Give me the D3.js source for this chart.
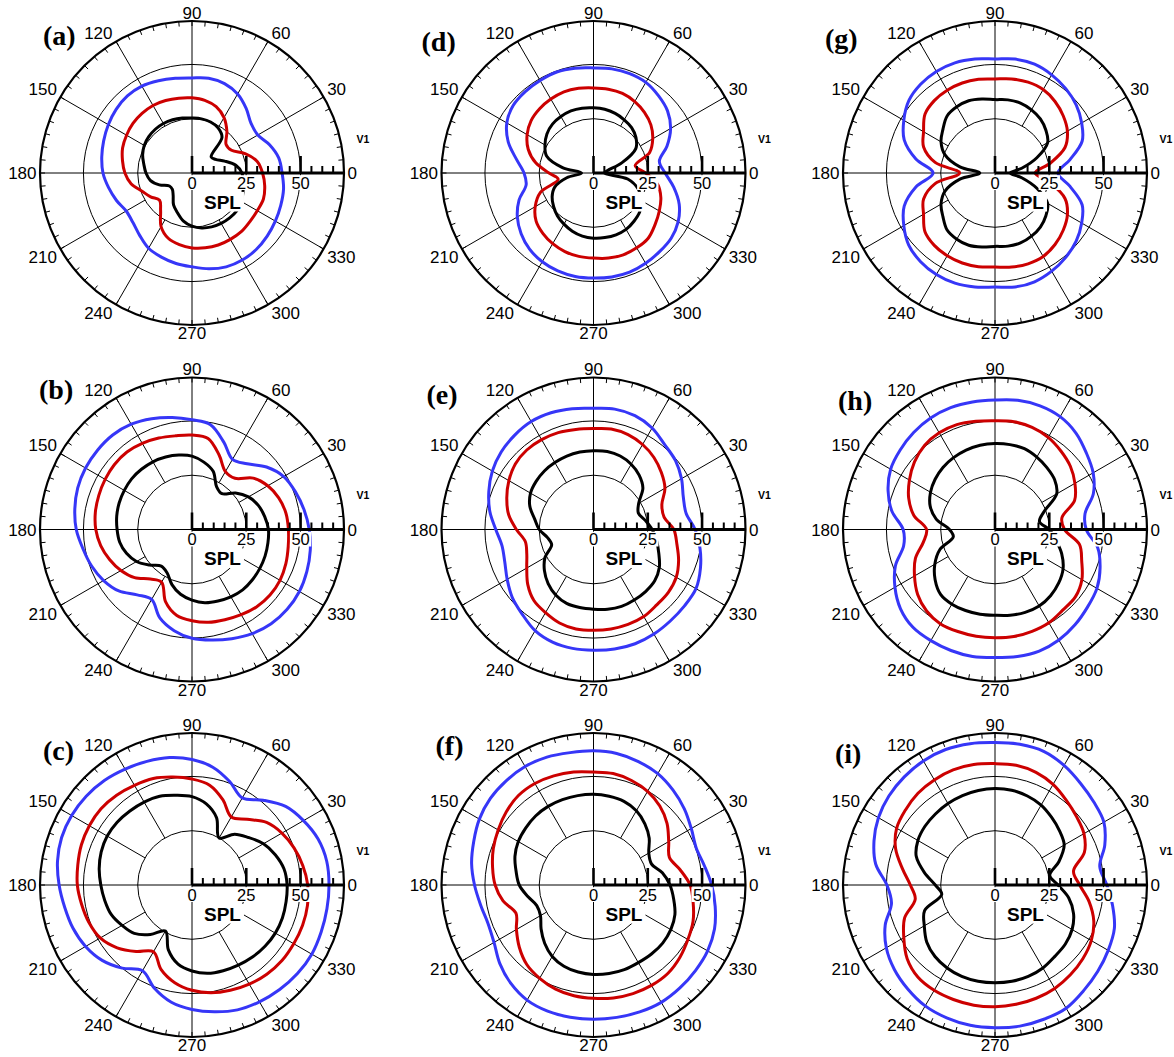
<!DOCTYPE html>
<html>
<head>
<meta charset="utf-8">
<script src="https://cdnjs.cloudflare.com/ajax/libs/d3/7.8.5/d3.min.js"></script>
<style>
  body { margin: 0; background: #fff; }
  svg { display: block; }
</style>
</head>
<body>
<svg id="chart" width="1174" height="1057"></svg>
<script>
// Directivity of SPL (polar), three source levels per case, nine cases (a)-(i)
const angles = d3.range(0, 360, 10);          // degrees, 0 = +x, counter-clockwise
const angleTicks = d3.range(0, 360, 30);
const rimTicks = d3.range(0, 360, 5);
const radialTicks = d3.range(0, 70, 5);
const radialLabels = [0, 25, 50];
const gridRings = [25, 50];
const panelIds = ['a', 'b', 'c', 'd', 'e', 'f', 'g', 'h', 'i'];
const seriesColors = ['#3636f7', '#cc0000', '#000000'];

// SPL values at 0,10,...,350 degrees
const aBlack = [23, 20.5, 16, 12.5, 11.5, 21.5, 24, 25, 25.3, 25.3, 25.7, 26.1, 26.3, 26.3, 26, 25.4, 24.2, 22.5, 21.2, 19.5, 16, 12, 11.8, 13.5, 17, 19.5, 22.5, 24.5, 25.7, 26.4, 26.8, 27, 27, 26.3, 25, 24];
const aRed   = [32.5, 30.5, 26, 21, 20.5, 25, 29.5, 32.5, 34, 34.6, 35, 35.5, 35.9, 35.8, 35.5, 34.8, 34, 32.5, 30.9, 28.5, 24.5, 22, 19.5, 22.5, 28.5, 32, 33.5, 34.5, 35, 35.3, 35.3, 35.3, 34.8, 34.7, 35, 34];
const aBlue  = [41.5, 40.5, 38, 35, 35.5, 38.8, 42, 43.8, 44.3, 43.8, 44.3, 45.2, 46.2, 46.3, 45.6, 44.5, 43.3, 42.2, 41, 39, 37, 35, 35.5, 37.5, 40, 41.2, 42.3, 43.2, 44.8, 46, 46.3, 46, 45.2, 44.3, 43.5, 42.8];

const bBlack = [35.2, 34, 32.5, 30, 26.2, 21.5, 22.7, 28.5, 31.5, 33.8, 34.8, 35.5, 36, 36.2, 36.3, 36, 35.7, 35.2, 34.5, 33.8, 32.1, 29.5, 25.5, 22, 23, 27, 30.3, 32.5, 34.2, 35, 35.8, 36.3, 36.2, 36, 35.8, 35.5];
const bRed   = [44.4, 43.9, 42.5, 40.3, 36.8, 30.8, 30.8, 36.5, 42.6, 43.5, 43.8, 44.8, 45.8, 46.6, 46.6, 46.2, 45.7, 45.2, 44.3, 42.7, 40.4, 37.8, 34.5, 29.8, 28, 35.5, 40.2, 42, 43.4, 44.2, 45.3, 46.4, 46.9, 46.8, 46, 45];
const bBlue  = [54, 52.4, 50.7, 48.8, 44.8, 39.5, 37.3, 42.8, 49, 50.5, 52.4, 54.3, 56, 56.8, 56.8, 56.6, 56, 54.8, 53.3, 51, 49.2, 47, 44, 39.3, 37.2, 43.3, 47.3, 50.1, 51.7, 53.5, 55.4, 56.7, 57.2, 57.1, 56.3, 55.3];

const cBlack = [43.8, 43, 40.8, 38, 34, 30.5, 25, 33, 37.9, 40.7, 42, 43.5, 44.1, 44.5, 45, 45.1, 44.5, 43.4, 42, 40.8, 39.6, 37.2, 34.7, 29.8, 24.5, 31.8, 37, 39.6, 41.3, 42, 42.6, 43.3, 43.9, 44.3, 44.3, 44];
const cRed   = [53.3, 51.8, 50, 47.8, 44.8, 39.5, 36.2, 41.7, 46.7, 48.8, 50.5, 52.2, 53, 54, 54.7, 54.6, 54.2, 53.4, 52.8, 51.6, 50.5, 48.8, 45, 40, 35.5, 41.5, 45.7, 48.5, 50.4, 51.6, 52.7, 53.6, 54.1, 54.1, 54.2, 54];
const cBlue  = [63.1, 63, 61.8, 59.3, 56.3, 51, 46.3, 50.7, 55.1, 57.8, 59.6, 60.6, 61.6, 62.8, 63.6, 64, 63.9, 62.9, 61.2, 59.5, 58.3, 56.6, 54, 50, 45.6, 50.6, 54.8, 57.3, 59.3, 61.2, 62.1, 62.8, 63.4, 63.7, 63.3, 63.1];

const dBlack = [5, 6.6, 14, 22.5, 25.5, 27.3, 28.3, 29.2, 29.8, 30, 30.3, 30.4, 30, 29.4, 28, 25.8, 23, 14.5, 5.5, 12.5, 19, 22, 24, 25.8, 27.2, 28.5, 29.5, 30, 30.2, 30.3, 30, 29, 27.8, 25.5, 22, 16];
const dRed   = [24, 19.5, 27.5, 31.5, 34.5, 36.5, 38, 39, 39.2, 39.2, 39.6, 39.8, 39.3, 38.6, 37.5, 35.3, 32, 27, 20.5, 16.5, 26, 31, 34.5, 36.3, 37.6, 38.5, 39, 39.2, 39.8, 40.1, 39.8, 39.2, 37, 35, 33, 30];
const dBlue  = [33, 30.8, 36, 41, 44.5, 46.5, 48.2, 48.7, 48.7, 48.4, 49, 49.5, 49.2, 48.9, 48.3, 46.1, 41.8, 36, 32, 31.5, 36.5, 40.5, 43.5, 45.8, 47.2, 48, 48.4, 48.4, 48.6, 48.6, 48, 47.3, 46.7, 45, 42, 37.5];

const eBlack = [27, 24.2, 22, 24, 29.7, 32.7, 34.7, 36, 36.5, 36.3, 36.2, 36, 35.6, 35.2, 34.5, 33.5, 31.2, 27.5, 25, 21.5, 20.5, 25.8, 29.5, 32.5, 34.8, 36.2, 36.5, 36.7, 37.3, 37.7, 37.5, 37.3, 36.8, 35, 32, 29.5];
const eRed   = [37, 33, 33.5, 38, 40.8, 43.3, 45.2, 46.5, 47, 46.5, 46.8, 47.5, 47.8, 47.8, 47, 45, 42.5, 39.7, 35.5, 31.9, 32.7, 35.5, 39.5, 42.7, 44.2, 45.8, 46.5, 46.4, 46.5, 46.5, 46.3, 45.3, 45, 44, 41.7, 39];
const eBlue  = [46.8, 43.3, 44, 46.8, 49.3, 51, 54, 55.8, 56.3, 55.8, 56.5, 57.2, 57.4, 56.6, 55.5, 53.8, 51.3, 48.5, 45, 42.8, 43.5, 45.9, 48.8, 51, 53.8, 55.2, 55.6, 55.6, 55.9, 56, 55.6, 55, 54.7, 54.5, 52.4, 49.8];

const fBlack = [35.2, 32.2, 28.4, 29.4, 33.5, 36.8, 39.5, 41, 41.5, 41.8, 41.8, 41.8, 41.8, 41.5, 40.8, 40, 38.5, 36.2, 34.2, 30.7, 27.8, 28.2, 31.5, 35, 38, 39.8, 40.7, 41.2, 41.4, 41.5, 41.3, 41.5, 41.6, 41.1, 39.9, 37.5];
const fRed   = [44.5, 40.5, 37.2, 40, 44.2, 47.5, 49.8, 51.2, 52.1, 52, 52.8, 53.5, 54, 53.8, 52.4, 50.7, 49.1, 47.2, 45.3, 42.3, 38, 41, 44.6, 47.8, 49.6, 51, 51.8, 52.2, 52.8, 53.2, 53.4, 53.2, 51.9, 50.2, 48.8, 46.6];
const fBlue  = [54.4, 51.8, 50.3, 52, 54.6, 57, 59.2, 60.5, 61.5, 61.8, 61.9, 62.7, 63, 62.6, 62, 60.7, 58.7, 57, 54.8, 52.8, 51.7, 52.9, 56.3, 59.2, 61.2, 61.8, 61.8, 61.8, 61.9, 62.2, 62.4, 61.9, 61.3, 60.7, 59.3, 56.9];

const gBlack = [7, 12.5, 20.5, 28, 30.6, 32.5, 33.6, 34.3, 34.2, 33.8, 34.6, 35.4, 35.2, 34.3, 31.3, 28.7, 24.5, 16.4, 7, 16.4, 24.5, 28.7, 31.3, 34.3, 35.2, 35.4, 34.6, 33.8, 34.2, 34.3, 33.6, 32.5, 30.6, 28, 20.5, 12.5];
const gRed   = [18.5, 25.8, 34.3, 38.5, 41, 43, 44.4, 44.5, 44, 43.3, 43.8, 44.1, 44, 43.5, 42.1, 38, 35, 28, 16.3, 28, 35, 38, 42.1, 43.5, 44, 44.1, 43.8, 43.3, 44, 44.5, 44.4, 43, 41, 38.5, 34.3, 25.8];
const gBlue  = [29, 35, 42.7, 46.1, 48.8, 50.7, 52.2, 53.3, 53.3, 52.5, 53.3, 54, 54, 53.3, 51.8, 48.5, 44.5, 37, 28.5, 37, 44.5, 48.5, 51.8, 53.3, 54, 54, 53.3, 52.5, 53.3, 53.3, 52.2, 50.7, 48.8, 46.1, 42.7, 35];

const hBlack = [25, 20.8, 24, 32.8, 35.8, 37.2, 38.5, 39.6, 39.7, 39.6, 39.4, 38.9, 38.2, 37.3, 36, 34.3, 31.8, 27.5, 21, 19.5, 27, 32, 36, 39, 39.7, 39.7, 39.6, 39.5, 40.1, 40.6, 40.7, 39.8, 38.3, 36.2, 32.7, 28.5];
const hRed   = [32, 31.3, 39, 42.5, 45.3, 47.2, 49, 50, 50.4, 50.1, 50.6, 51.4, 51.4, 50.5, 48.4, 45.5, 42.3, 38, 31.5, 33.5, 39, 42.8, 46.5, 49, 50.2, 50, 49.9, 49.8, 50, 49.9, 49.6, 48.5, 48.3, 46.2, 42.5, 39.5];
const hBlue  = [42, 42.1, 48.2, 52.2, 54.9, 58, 60, 60.6, 60.4, 59.6, 59.6, 59.7, 59.3, 58.3, 57, 55.5, 52.4, 48.2, 42.3, 42.7, 48.8, 53.2, 56.8, 58.8, 59.1, 59.3, 59.4, 59, 59.4, 59.6, 58.8, 57.3, 55.6, 54.2, 51.5, 48];

const iBlack = [29, 25.6, 31.3, 36.8, 38.8, 40.6, 42.5, 43.6, 44.3, 44.4, 44.2, 43.8, 43.3, 42.7, 42.1, 41, 38.6, 33, 27.5, 24.9, 34.5, 37.6, 41, 43, 44.1, 44.8, 45, 45, 45, 44.8, 44.1, 42.9, 42.3, 41, 38.5, 34.5];
const iRed   = [39, 36.7, 43.8, 47.3, 49, 51, 53.5, 55.2, 56, 55.9, 56.3, 56.4, 55.9, 55.2, 53.8, 52.3, 48.7, 43.3, 39, 37.3, 44.3, 48.5, 52.8, 55.3, 56, 56.1, 56.2, 56.1, 55.8, 55.5, 55, 54, 52.8, 51.2, 48.4, 44];
const iBlue  = [51.5, 49, 53.8, 57.9, 59.4, 61.2, 63.6, 65.5, 65.8, 65.6, 66.1, 66.4, 66, 65, 63.8, 62, 59.3, 55.8, 49.8, 48.4, 53.8, 57.8, 60.5, 62.5, 64.3, 65.1, 65.6, 65.7, 66, 65.8, 65.5, 63.5, 61.8, 60.2, 58.5, 55];

const panelSeries = [
  [aBlue, aRed, aBlack], [bBlue, bRed, bBlack], [cBlue, cRed, cBlack],
  [dBlue, dRed, dBlack], [eBlue, eRed, eBlack], [fBlue, fRed, fBlack],
  [gBlue, gRed, gBlack], [hBlue, hRed, hBlack], [iBlue, iRed, iBlack]
];

// ---- layout ----
const colX = [192, 593.5, 995];
const rowY = [173, 529.5, 885];
const R = 152;
const tagOffset = [[-149, -128.5], [-153, -131], [-149, -125.5], [-172, -122], [-167, -126], [-158, -130.5], [-170, -125], [-157, -120], [-160, -122]];

const sans = "'Liberation Sans', Arial, Helvetica, sans-serif";
const serif = "'Liberation Serif', 'Times New Roman', Times, serif";

const rScale = d3.scaleLinear().domain([0, 70]).range([0, R]);
const rad = a => a * Math.PI / 180;
const px = (a, v) => rScale(v) * Math.cos(rad(a));
const py = (a, v) => -rScale(v) * Math.sin(rad(a));

const curve = d3.line()
  .x(d => px(d.a, d.v))
  .y(d => py(d.a, d.v))
  .curve(d3.curveCatmullRomClosed.alpha(0.5));

const svg = d3.select('#chart');

// text with a tight white backing box (digits / capitals only)
function boxedText(g, x, baseline, str, size, weight, pad) {
  const t = g.append('text')
    .attr('x', x).attr('y', baseline)
    .attr('text-anchor', 'middle')
    .style('font-family', sans).style('font-size', size + 'px').style('font-weight', weight)
    .text(str);
  const w = t.node().getComputedTextLength();
  const cap = 0.716 * size;
  g.insert('rect', () => t.node())
    .attr('x', x - w / 2 - pad).attr('y', baseline - cap - pad)
    .attr('width', w + 2 * pad).attr('height', cap + 2 * pad)
    .attr('fill', '#fff');
}

panelIds.forEach((id, i) => {
  const cx = colX[Math.floor(i / 3)];
  const cy = rowY[i % 3];
  const g = svg.append('g').attr('transform', `translate(${cx},${cy})`);

  // grid rings
  g.selectAll('circle.ring').data(gridRings).join('circle')
    .attr('class', 'ring').attr('r', d => rScale(d))
    .attr('fill', 'none').attr('stroke', '#000').attr('stroke-width', 1);

  // spokes every 30 degrees, starting at the inner ring
  g.selectAll('line.spoke').data(angleTicks.filter(a => a % 90 !== 0)).join('line')
    .attr('class', 'spoke')
    .attr('x1', a => px(a, gridRings[0])).attr('y1', a => py(a, gridRings[0]))
    .attr('x2', a => px(a, 70)).attr('y2', a => py(a, 70))
    .attr('stroke', '#000').attr('stroke-width', 1);
  // principal axes
  g.append('line').attr('x1', 0).attr('y1', -R).attr('x2', 0).attr('y2', R)
    .attr('stroke', '#000').attr('stroke-width', 1);
  g.append('line').attr('x1', -R).attr('y1', 0).attr('x2', 0).attr('y2', 0)
    .attr('stroke', '#000').attr('stroke-width', 1);

  // rim with 5-degree ticks
  g.append('circle').attr('r', R).attr('fill', 'none').attr('stroke', '#000').attr('stroke-width', 2.2);
  g.selectAll('line.rim').data(rimTicks).join('line')
    .attr('class', 'rim')
    .attr('x1', a => (R - 5) * Math.cos(rad(a))).attr('y1', a => -(R - 5) * Math.sin(rad(a)))
    .attr('x2', a => R * Math.cos(rad(a))).attr('y2', a => -R * Math.sin(rad(a)))
    .attr('stroke', '#000').attr('stroke-width', 1);

  // SPL curves
  panelSeries[i].forEach((vals, k) => {
    g.append('path')
      .datum(angles.map((a, j) => ({ a, v: vals[j] })))
      .attr('d', curve)
      .attr('fill', 'none')
      .attr('stroke', seriesColors[k])
      .attr('stroke-width', 3)
      .attr('stroke-linejoin', 'round');
  });

  // radial axis with ticks
  g.append('line').attr('x1', 0).attr('y1', 0).attr('x2', R).attr('y2', 0)
    .attr('stroke', '#000').attr('stroke-width', 3.2);
  g.selectAll('line.rtick').data(radialTicks).join('line')
    .attr('class', 'rtick')
    .attr('x1', d => rScale(d)).attr('x2', d => rScale(d))
    .attr('y1', 0).attr('y2', d => radialLabels.includes(d) ? -17 : -7)
    .attr('stroke', '#000').attr('stroke-width', d => radialLabels.includes(d) ? 2.6 : 2);

  // radial labels and title
  radialLabels.forEach(v => boxedText(g, rScale(v), 15.5, String(v), 16.5, 'normal', 1.5));
  boxedText(g, 30.5, 35.5, 'SPL', 19, 'bold', 3);

  g.append('text')
    .attr('x', 171).attr('y', -30.5)
    .attr('text-anchor', 'middle')
    .style('font-family', sans).style('font-size', '10.5px').style('font-weight', 'bold')
    .text('V1');

  // angle labels: text box corner sits just outside the rim point
  const fs = 17, capH = 0.716 * fs;
  angleTicks.forEach(a => {
    const t = g.append('text')
      .attr('text-anchor', 'middle')
      .style('font-family', sans).style('font-size', fs + 'px')
      .text(String(a));
    const w = t.node().getComputedTextLength();
    const c = Math.cos(rad(a)), s = Math.sin(rad(a));
    const sx = Math.abs(c) < 0.01 ? 0 : Math.sign(c);
    const sy = Math.abs(s) < 0.01 ? 0 : Math.sign(s);
    const x = R * c + sx * (w / 2 + 3.5);
    const y = -R * s - sy * (capH / 2 + 2.3);
    t.attr('x', x).attr('y', y + capH / 2);
  });

  // panel tag
  g.append('text')
    .attr('x', tagOffset[i][0]).attr('y', tagOffset[i][1])
    .style('font-family', serif).style('font-size', '28px').style('font-weight', 'bold')
    .text(`(${id})`);
});
</script>
</body>
</html>
